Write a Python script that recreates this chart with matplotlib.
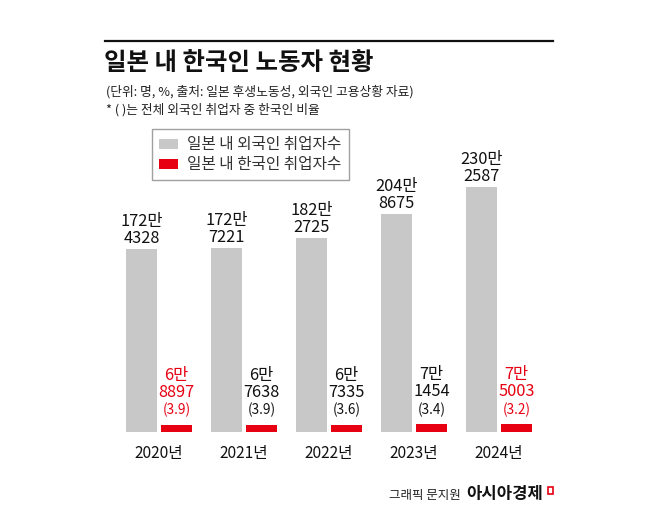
import matplotlib.pyplot as plt
from matplotlib.patches import Rectangle
from matplotlib.lines import Line2D

plt.rcParams['font.family'] = ['Noto Sans CJK KR', 'DejaVu Sans']

years = ['2020년', '2021년', '2022년', '2023년', '2024년']
# 단위: 만 명
foreign = [172.4328, 172.7221, 182.2725, 204.8675, 230.2587]
korean = [6.8897, 6.7638, 6.7335, 7.1454, 7.5003]
foreign_labels = ['172만\n4328', '172만\n7221', '182만\n2725', '204만\n8675', '230만\n2587']
korean_labels = ['6만\n8897', '6만\n7638', '6만\n7335', '7만\n1454', '7만\n5003']
share = ['(3.9)', '(3.9)', '(3.6)', '(3.4)', '(3.2)']
highlight = [True, False, False, False, True]

GRAY = '#c8c8c8'
RED = '#e60012'
W, H = 658, 525

fig = plt.figure(figsize=(W / 100, H / 100), dpi=100)


def fx(px):
    return px / W


def fy(py):
    return 1 - py / H


# axes placed in pixel terms
ax = fig.add_axes([fx(98), fy(432), fx(553) - fx(98), fy(132) - fy(432)])
x = list(range(len(years)))
bw = 31 / 85
off = 17.5 / 85
b1 = ax.bar([i - off for i in x], foreign, width=bw, color=GRAY, label='일본 내 외국인 취업자수')
b2 = ax.bar([i + off for i in x], korean, width=bw, color=RED, label='일본 내 한국인 취업자수')
ax.set_xlim((98 - 159) / 85, (553 - 159) / 85)
ax.set_ylim(0, 300 / 1.064)
for s in ax.spines.values():
    s.set_visible(False)
ax.set_yticks([])
ax.set_xticks(x)
ax.set_xticklabels(years, fontsize=11.2, color='#111')
ax.tick_params(axis='x', length=0, pad=9.5)

for i in x:
    ax.annotate(foreign_labels[i], (i - off, foreign[i]), xytext=(0, 13.5), textcoords='offset points',
                ha='center', va='center', fontsize=11.8, color='#111', linespacing=1.0)
    c = RED if highlight[i] else '#111'
    ax.annotate(share[i], (i + off, korean[i]), xytext=(0, 10.5), textcoords='offset points',
                ha='center', va='center', fontsize=9.8, color=c)
    ax.annotate(korean_labels[i], (i + off, korean[i]), xytext=(0, 29.5), textcoords='offset points',
                ha='center', va='center', fontsize=11.8, color=c, linespacing=1.0)

leg = ax.legend(loc='upper left', bbox_to_anchor=(fx(152), fy(129)), bbox_transform=fig.transFigure,
                fontsize=11.3, frameon=True, fancybox=False, edgecolor='#888', borderaxespad=0,
                handlelength=1.2, handleheight=0.6, handletextpad=0.6, labelspacing=0.2,
                borderpad=0.45, labelcolor='#333')
leg.get_frame().set_linewidth(1)

# top rule and header texts
fig.add_artist(Line2D([fx(105), fx(553)], [fy(40.5), fy(40.5)], color='#111', lw=1.6))
fig.text(fx(104), fy(63), '일본 내 한국인 노동자 현황', fontsize=17.6, fontweight='bold',
         color='#111', va='center', ha='left')
fig.text(fx(106), fy(92), '(단위: 명, %, 출처: 일본 후생노동성, 외국인 고용상황 자료)', fontsize=9.2,
         color='#222', va='center', ha='left')
fig.text(fx(106), fy(110), '* ( )는 전체 외국인 취업자 중 한국인 비율', fontsize=9.2,
         color='#222', va='center', ha='left')

# credit
fig.text(fx(461), fy(495), '그래픽 문지원', fontsize=9, color='#222', va='center', ha='right')
fig.text(fx(466), fy(494), '아시아경제', fontsize=12, fontweight='bold', color='#111',
         va='center', ha='left')
fig.add_artist(Rectangle((fx(548), fy(494)), fx(5), fy(487) - fy(494), transform=fig.transFigure,
                         fill=False, edgecolor=RED, lw=1.2))

fig.savefig('out.png', dpi=100)
